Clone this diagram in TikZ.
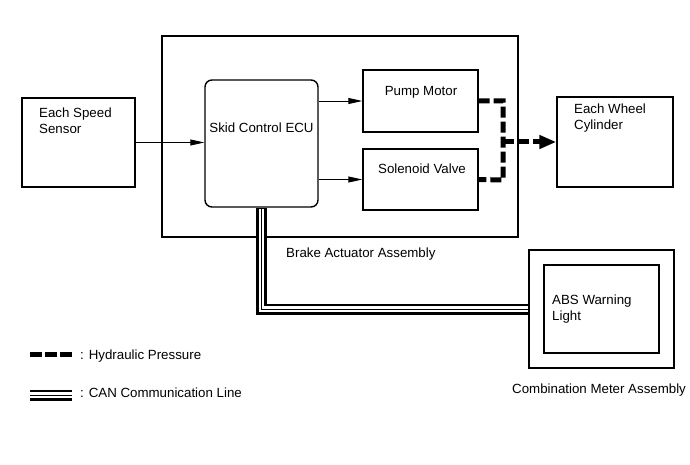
\documentclass[tikz,border=0pt]{standalone}
\usepackage{fontspec}
\setmainfont{Liberation Sans}
\usetikzlibrary{arrows.meta}
\begin{document}
\begin{tikzpicture}[x=1pt,y=-1pt,
  box/.style={draw, line width=1.4pt, inner sep=0pt},
  txt/.style={inner sep=0pt, font=\fontsize{13.3}{16}\selectfont, align=left},
  sig/.style={line width=0.9pt, -{Triangle[length=14pt,width=6pt]}},
  hyd/.style={line width=5pt, dash pattern=on 11pt off 4pt},
  canouter/.style={line width=11pt},
  caninner/.style={line width=5.6pt, white},
  canmid/.style={line width=0.8pt},
]
\useasboundingbox (0,0) rectangle (690,465);

% boxes
\node[box, minimum width=356pt, minimum height=201pt] (act) at (340,136.5) {};
\node[box, minimum width=113pt, minimum height=89pt] (speed) at (78.5,142.5) {};
\node[box, rounded corners=7pt, minimum width=113pt, minimum height=127pt] (ecu) at (261.5,143.5) {};
\node[box, minimum width=115pt, minimum height=62pt] (pump) at (420.5,101) {};
\node[box, minimum width=115pt, minimum height=61pt] (sol) at (420.5,179.5) {};
\node[box, minimum width=116pt, minimum height=90pt] (wheel) at (615,142) {};
\node[box, minimum width=145pt, minimum height=118pt] (meter) at (601.5,309) {};
\node[box, minimum width=115pt, minimum height=88pt] (abs) at (601.5,309) {};

% texts
\node[txt, anchor=north west] (tspeed) at (39,107.2) {Each Speed\\Sensor};
\node[txt, anchor=base] (tecu) at (261.5,133) {Skid Control ECU};
\node[txt, anchor=base] (tpump) at (421,96) {Pump Motor};
\node[txt, anchor=base] (tsol) at (422,174) {Solenoid Valve};
\node[txt, anchor=north west] (twheel) at (574,103.5) {Each Wheel\\Cylinder};
\node[txt, anchor=north west] (tabs) at (552,295) {ABS Warning\\Light};
\node[txt, anchor=base west] (tact) at (286,257) {Brake Actuator Assembly};
\node[txt, anchor=base west] (tmeter) at (512,393) {Combination Meter Assembly};
\node[txt, anchor=base west] (thyd) at (80,359) {: Hydraulic Pressure};
\node[txt, anchor=base west] (tcan) at (80,397) {: CAN Communication Line};

% signal arrows
\draw[sig] (speed.east) -- (speed.east -| ecu.west);
\draw[sig] (ecu.east |- pump.west) -- (pump.west);
\draw[sig] (ecu.east |- sol.west) -- (sol.west);

% hydraulic
\coordinate (hp) at (503,101);
\coordinate (hs) at (503,180);
\coordinate (hj) at (503,142);
\draw[hyd] (pump.east) -- (hp) -- (hs) -- (sol.east);
\draw[hyd, -{Triangle[length=17pt,width=13pt]}] (hj) -- (wheel.west);

% CAN line
\coordinate (cc) at (ecu.south |- meter.west);
\draw[canouter] (ecu.south) -- (cc) -- (meter.west);
\draw[caninner, shorten <=0.8pt] (ecu.south) -- (cc) -- (meter.west);
\draw[canmid, shorten <=0.8pt] (ecu.south) -- (cc) -- (meter.west);

% legend
\coordinate (lh1) at (30,354);
\coordinate (lh2) at (72,354);
\draw[line width=5pt, dash pattern=on 12pt off 3pt] (lh1) -- (lh2);
\coordinate (lc1) at (30,395);
\coordinate (lc2) at (72,395);
\draw[canouter] (lc1) -- (lc2);
\draw[caninner] (lc1) -- (lc2);
\draw[canmid] (lc1) -- (lc2);
\end{tikzpicture}
\end{document}
